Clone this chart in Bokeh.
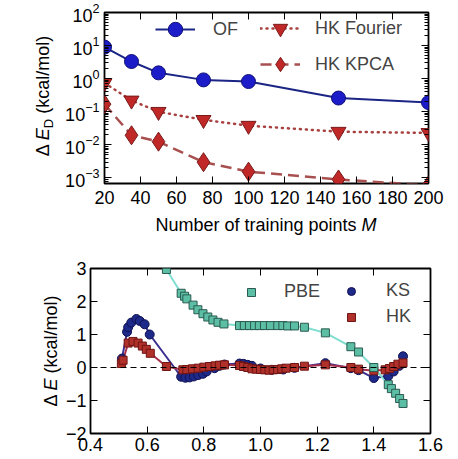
from bokeh.plotting import figure
from bokeh.models import (Range1d, LinearAxis, LogAxis, SingleIntervalTicker, LogTicker,
                          Legend, LegendItem, Span, CustomJSTickFormatter, Div)
from bokeh.layouts import column, row
from bokeh.embed import file_html
from bokeh.resources import INLINE

FONT = "Liberation Sans"

# ---------------- top panel data ----------------
M_points = [20, 35, 50, 75, 100, 150, 200]
err_OF = [9.0, 3.3, 1.5, 0.92, 0.82, 0.26, 0.19]
err_HK_fourier = [0.74, 0.22, 0.10, 0.057, 0.038, 0.025, 0.023]
err_HK_kpca = [0.17, 0.0195, 0.0125, 0.003, 0.00155, 0.0009, 0.0006]

# ---------------- bottom panel data ----------------
R_pbe = [0.668, 0.72, 0.732, 0.74, 0.762, 0.779, 0.797, 0.814, 0.832, 0.85, 0.871,
         0.926, 0.943, 0.961, 0.979, 0.996, 1.014, 1.035, 1.061, 1.079, 1.096, 1.12,
         1.155, 1.229, 1.319, 1.346, 1.400, 1.451, 1.462, 1.477, 1.491, 1.503]
dE_pbe = [2.97, 2.25, 2.16, 2.08, 1.89, 1.75, 1.63, 1.53, 1.44, 1.37, 1.32,
          1.27, 1.27, 1.27, 1.27, 1.27, 1.27, 1.27, 1.27, 1.27, 1.26, 1.26,
          1.22, 1.05, 0.63, 0.47, 0.0, -0.52, -0.64, -0.78, -0.94, -1.09]

R_ks = [0.511, 0.529, 0.533, 0.544, 0.562, 0.574, 0.591, 0.609, 0.72, 0.735, 0.75,
        0.765, 0.78, 0.797, 0.81, 0.838, 0.855, 0.873, 0.926, 0.94, 0.955, 0.97,
        1.0, 1.04, 1.08, 1.12, 1.229, 1.319, 1.346, 1.40, 1.451, 1.47, 1.49, 1.503]
dE_ks = [0.27, 1.08, 1.22, 1.36, 1.47, 1.41, 1.31, 1.0, -0.28, -0.31, -0.30,
         -0.27, -0.23, -0.19, -0.12, -0.02, 0.05, 0.09, 0.12, 0.11, 0.08, 0.05,
         -0.03, -0.07, -0.06, -0.01, 0.13, -0.02, -0.08, -0.32, -0.26, -0.12, 0.05, 0.34]

R_hk = [0.509, 0.515, 0.533, 0.55, 0.568, 0.583, 0.597, 0.611, 0.668, 0.726, 0.74,
        0.76, 0.78, 0.80, 0.82, 0.84, 0.855, 0.873, 0.926, 0.94, 0.955, 0.97, 0.985,
        1.0, 1.015, 1.03, 1.045, 1.06, 1.075, 1.09, 1.12, 1.155, 1.229, 1.319, 1.346,
        1.40, 1.44, 1.455, 1.47, 1.485, 1.503]
dE_hk = [0.12, 0.22, 0.74, 0.79, 0.74, 0.65, 0.55, 0.43, 0.03, -0.07, -0.06,
         -0.04, -0.02, 0.01, 0.03, 0.05, 0.07, 0.08, 0.06, 0.03, 0.0, -0.04, -0.05,
         -0.06, -0.07, -0.08, -0.07, -0.06, -0.04, -0.02, 0.0, 0.04, 0.08, 0.0, -0.05,
         -0.1, -0.07, -0.03, 0.03, 0.10, 0.14]

TOP_XLABEL = 'Number of training points <i>M</i>'
TOP_YLABEL = '\u0394 <i>E</i><span style="font-size:13px;position:relative;top:4px;">D</span> (kcal/mol)'
BOT_YLABEL = '\u0394 <i>E</i> (kcal/mol)'


def style_axis(ax, size="18px", standoff=5):
    ax.axis_line_color = None
    ax.major_tick_in = 7
    ax.major_tick_out = 0
    ax.minor_tick_in = 4
    ax.minor_tick_out = 0
    ax.major_tick_line_color = "black"
    ax.minor_tick_line_color = "black"
    ax.major_tick_line_width = 1
    ax.major_label_text_font = FONT
    ax.major_label_text_font_size = size
    ax.major_label_text_color = "black"
    ax.major_label_standoff = standoff


def blank_axis(ax):
    style_axis(ax)
    ax.formatter = CustomJSTickFormatter(code="return ''")
    ax.major_label_standoff = 0


def label_div(html, width, height, cx, cy, rotate=False):
    rot = " rotate(-90deg)" if rotate else ""
    inner = (f'<div style="position:relative;width:{width}px;height:{height}px;">'
             f'<span style="position:absolute;left:{cx}px;top:{cy}px;'
             f'transform:translate(-50%,-50%){rot};white-space:nowrap;'
             f"font-family:'{FONT}';font-size:18px;color:#000;line-height:1;\">"
             f'{html}</span></div>')
    return Div(text=inner, width=width, height=height, margin=0)


# ================= top panel =================
p1 = figure(width=388, height=213, x_range=Range1d(20, 200),
            y_range=Range1d(6.8e-4, 100), y_axis_type="log",
            output_backend="svg", toolbar_location=None,
            min_border_left=44, min_border_right=20, min_border_top=12,
            min_border_bottom=30)
p1.grid.visible = False
p1.outline_line_color = "black"
p1.outline_line_width = 1.8

p1.xaxis.ticker = SingleIntervalTicker(interval=20, num_minor_ticks=0)
p1.yaxis.ticker = LogTicker(num_minor_ticks=10)
for ax in p1.xaxis:
    style_axis(ax, standoff=7)
for ax in p1.yaxis:
    style_axis(ax, standoff=5)

top_ax = LinearAxis(ticker=SingleIntervalTicker(interval=20, num_minor_ticks=0))
blank_axis(top_ax)
p1.add_layout(top_ax, "above")
right_ax = LogAxis(ticker=LogTicker(num_minor_ticks=10))
blank_axis(right_ax)
p1.add_layout(right_ax, "right")

l_of = p1.line(M_points, err_OF, line_color="#1b2585", line_width=2)
s_of = p1.scatter(M_points, err_OF, marker="circle", size=14,
                  fill_color="#1c1cc8", line_color="#10107a", line_width=1)
l_fo = p1.line(M_points, err_HK_fourier, line_color="#a84040", line_width=2.5,
               line_dash="1 5", line_cap="round")
s_fo = p1.scatter(M_points, err_HK_fourier, marker="inverted_triangle", size=15,
                  fill_color="#c02828", line_color="#7a1a1a", line_width=1)
l_kp = p1.line(M_points, err_HK_kpca, line_color="#a85050", line_width=2.5,
               line_dash="11 6")
s_kp = p1.scatter(M_points, err_HK_kpca, marker="diamond", size=19,
                  fill_color="#c02828", line_color="#7a1a1a", line_width=1)

leg_common = dict(label_text_font=FONT, label_text_font_size="18px",
                  glyph_width=40, glyph_height=36, label_height=36,
                  padding=0, margin=0, spacing=-8,
                  background_fill_alpha=0, border_line_alpha=0)
leg1a = Legend(items=[LegendItem(label="OF", renderers=[l_of, s_of])],
               location=(51, 136), label_standoff=18, **leg_common)
leg1b = Legend(items=[LegendItem(label="HK Fourier", renderers=[l_fo, s_fo]),
                      LegendItem(label="HK KPCA", renderers=[l_kp, s_kp])],
               location=(156, 101), label_standoff=15, **leg_common)
p1.add_layout(leg1a, "center")
p1.add_layout(leg1b, "center")

yd1 = label_div(TOP_YLABEL, 60, 213, 43, 96, rotate=True)
xd1 = label_div(TOP_XLABEL, 448, 30, 266, 12)

# ================= bottom panel =================
p2 = figure(width=386, height=214, x_range=Range1d(0.4, 1.6), y_range=Range1d(-2, 3),
            output_backend="svg", toolbar_location=None,
            min_border_left=27, min_border_right=18, min_border_top=25,
            min_border_bottom=24)
p2.grid.visible = False
p2.outline_line_color = "black"
p2.outline_line_width = 1.8

p2.xaxis.ticker = SingleIntervalTicker(interval=0.2, num_minor_ticks=0)
p2.yaxis.ticker = SingleIntervalTicker(interval=1, num_minor_ticks=0)
p2.xaxis.formatter = CustomJSTickFormatter(code="return tick.toFixed(1)")
p2.yaxis.formatter = CustomJSTickFormatter(
    code="return (tick < -0.5 ? '\\u2212' : '') + Math.abs(tick).toFixed(0)")
for ax in p2.xaxis + p2.yaxis:
    style_axis(ax, standoff=4)

top_ax2 = LinearAxis(ticker=SingleIntervalTicker(interval=0.2, num_minor_ticks=0))
blank_axis(top_ax2)
p2.add_layout(top_ax2, "above")
right_ax2 = LinearAxis(ticker=SingleIntervalTicker(interval=1, num_minor_ticks=0))
blank_axis(right_ax2)
p2.add_layout(right_ax2, "right")

p2.add_layout(Span(location=0, dimension="width", line_color="black",
                   line_dash="6 4", line_width=1.2))

p2.line(R_ks, dE_ks, line_color="#3a2f8f", line_width=2)
p2.line(R_hk, dE_hk, line_color="#a8304a", line_width=2)
p2.line(R_pbe, dE_pbe, line_color="#7fded0", line_width=2)
s_ks = p2.scatter(R_ks, dE_ks, marker="circle", size=9,
                  fill_color="#1e2a8a", line_color="#101050", line_width=1)
s_hk = p2.scatter(R_hk, dE_hk, marker="square", size=8,
                  fill_color="#b0302a", line_color="#701515", line_width=1)
s_pbe = p2.scatter(R_pbe, dE_pbe, marker="square", size=8,
                   fill_color="#5cbfa5", line_color="#2a5a50", line_width=1)

leg_common2 = dict(label_text_font=FONT, label_text_font_size="18px",
                   glyph_width=40, glyph_height=20, label_height=20,
                   padding=0, margin=0, spacing=5,
                   background_fill_alpha=0, border_line_alpha=0)
leg2a = Legend(items=[LegendItem(label="PBE", renderers=[s_pbe])],
               location=(141, 131), label_standoff=13, **leg_common2)
leg2b = Legend(items=[LegendItem(label="KS", renderers=[s_ks]),
                      LegendItem(label="HK", renderers=[s_hk])],
               location=(241, 106), label_standoff=15, **leg_common2)
p2.add_layout(leg2a, "center")
p2.add_layout(leg2b, "center")

yd2 = label_div(BOT_YLABEL, 62, 214, 51, 108, rotate=True)

layout = column(row(yd1, p1), xd1, row(yd2, p2))
open("out.html", "w").write(file_html(layout, INLINE))
